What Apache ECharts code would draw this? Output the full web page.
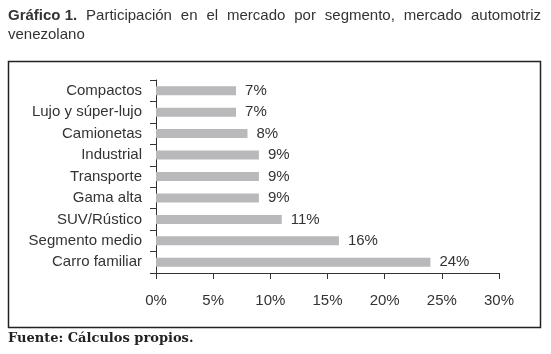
<!DOCTYPE html>
<html><head><meta charset="utf-8">
<script src="https://cdn.jsdelivr.net/npm/echarts@6/dist/echarts.min.js"></script>
<style>html,body{margin:0;padding:0;background:#fff}#c{width:551px;height:354px}</style>
</head><body><div id="c"></div>
<script>
const categories = ['Compactos','Lujo y súper-lujo','Camionetas','Industrial','Transporte','Gama alta','SUV/Rústico','Segmento medio','Carro familiar'];
const values = [7,7,8,9,9,9,11,16,24];
const xTicks = {min:0, max:30, interval:5};
const titleBold = 'Gráfico 1.';
const titleRest1 = 'Participación en el mercado por segmento, mercado automotriz';
const titleLine2 = 'venezolano';
const source = 'Fuente: Cálculos propios.';

const font = 'Liberation Sans, Arial, sans-serif';
const fs = 15;

// justified first title line (layout only)
const ctx = document.createElement('canvas').getContext('2d');
const words = [{t:titleBold, bold:true}].concat(titleRest1.split(' ').map(t=>({t, bold:false})));
let total = 0;
words.forEach(w=>{ctx.font=(w.bold?'bold ':'')+fs+'px '+font; w.w=ctx.measureText(w.t).width; total+=w.w;});
const lineLeft = 8, lineRight = 541;
const gap = (lineRight-lineLeft-total)/(words.length-1);
const titleEls = [];
let x = lineLeft;
words.forEach(w=>{
  titleEls.push({type:'text', x:x, y:8, style:{text:w.t, font:(w.bold?'bold ':'')+fs+'px '+font, fill:'#333'}});
  x += w.w + gap;
});
titleEls.push({type:'text', x:lineLeft, y:27, style:{text:titleLine2, font:fs+'px '+font, fill:'#333'}});

const chart = echarts.init(document.getElementById('c'), null, {renderer:'canvas'});
chart.setOption({
  animation:false,
  backgroundColor:'#fff',
  textStyle:{fontFamily:font},
  graphic:titleEls.concat([
    {type:'rect', shape:{x:8.5,y:61.5,width:532,height:266}, style:{fill:'none',stroke:'#222',lineWidth:1.5}},
    {type:'text', left:8, top:332, style:{text:source, font:'bold 13px "DejaVu Serif", "Liberation Serif", serif', fill:'#222'}}
  ]),
  grid:{left:156, right:52, top:80, bottom:81, containLabel:false},
  xAxis:{type:'value', min:xTicks.min, max:xTicks.max, interval:xTicks.interval,
    axisLine:{show:true,lineStyle:{color:'#333',width:1}},
    axisTick:{show:true,length:6,lineStyle:{color:'#333'}},
    splitLine:{show:false},
    axisLabel:{formatter:'{value}%', color:'#333', fontSize:fs, margin:20, fontFamily:font}},
  yAxis:{type:'category', data:categories, inverse:true,
    axisLine:{show:true,lineStyle:{color:'#333',width:1}},
    axisTick:{show:true,length:6,lineStyle:{color:'#333'}},
    axisLabel:{color:'#333', fontSize:fs, margin:14, fontFamily:font}},
  series:[{type:'bar', data:values, barWidth:9, itemStyle:{color:'#b9b9bb'},
    label:{show:true, position:'right', distance:9, formatter:'{c}%', color:'#333', fontSize:fs, fontFamily:font}}]
});
</script></body></html>
